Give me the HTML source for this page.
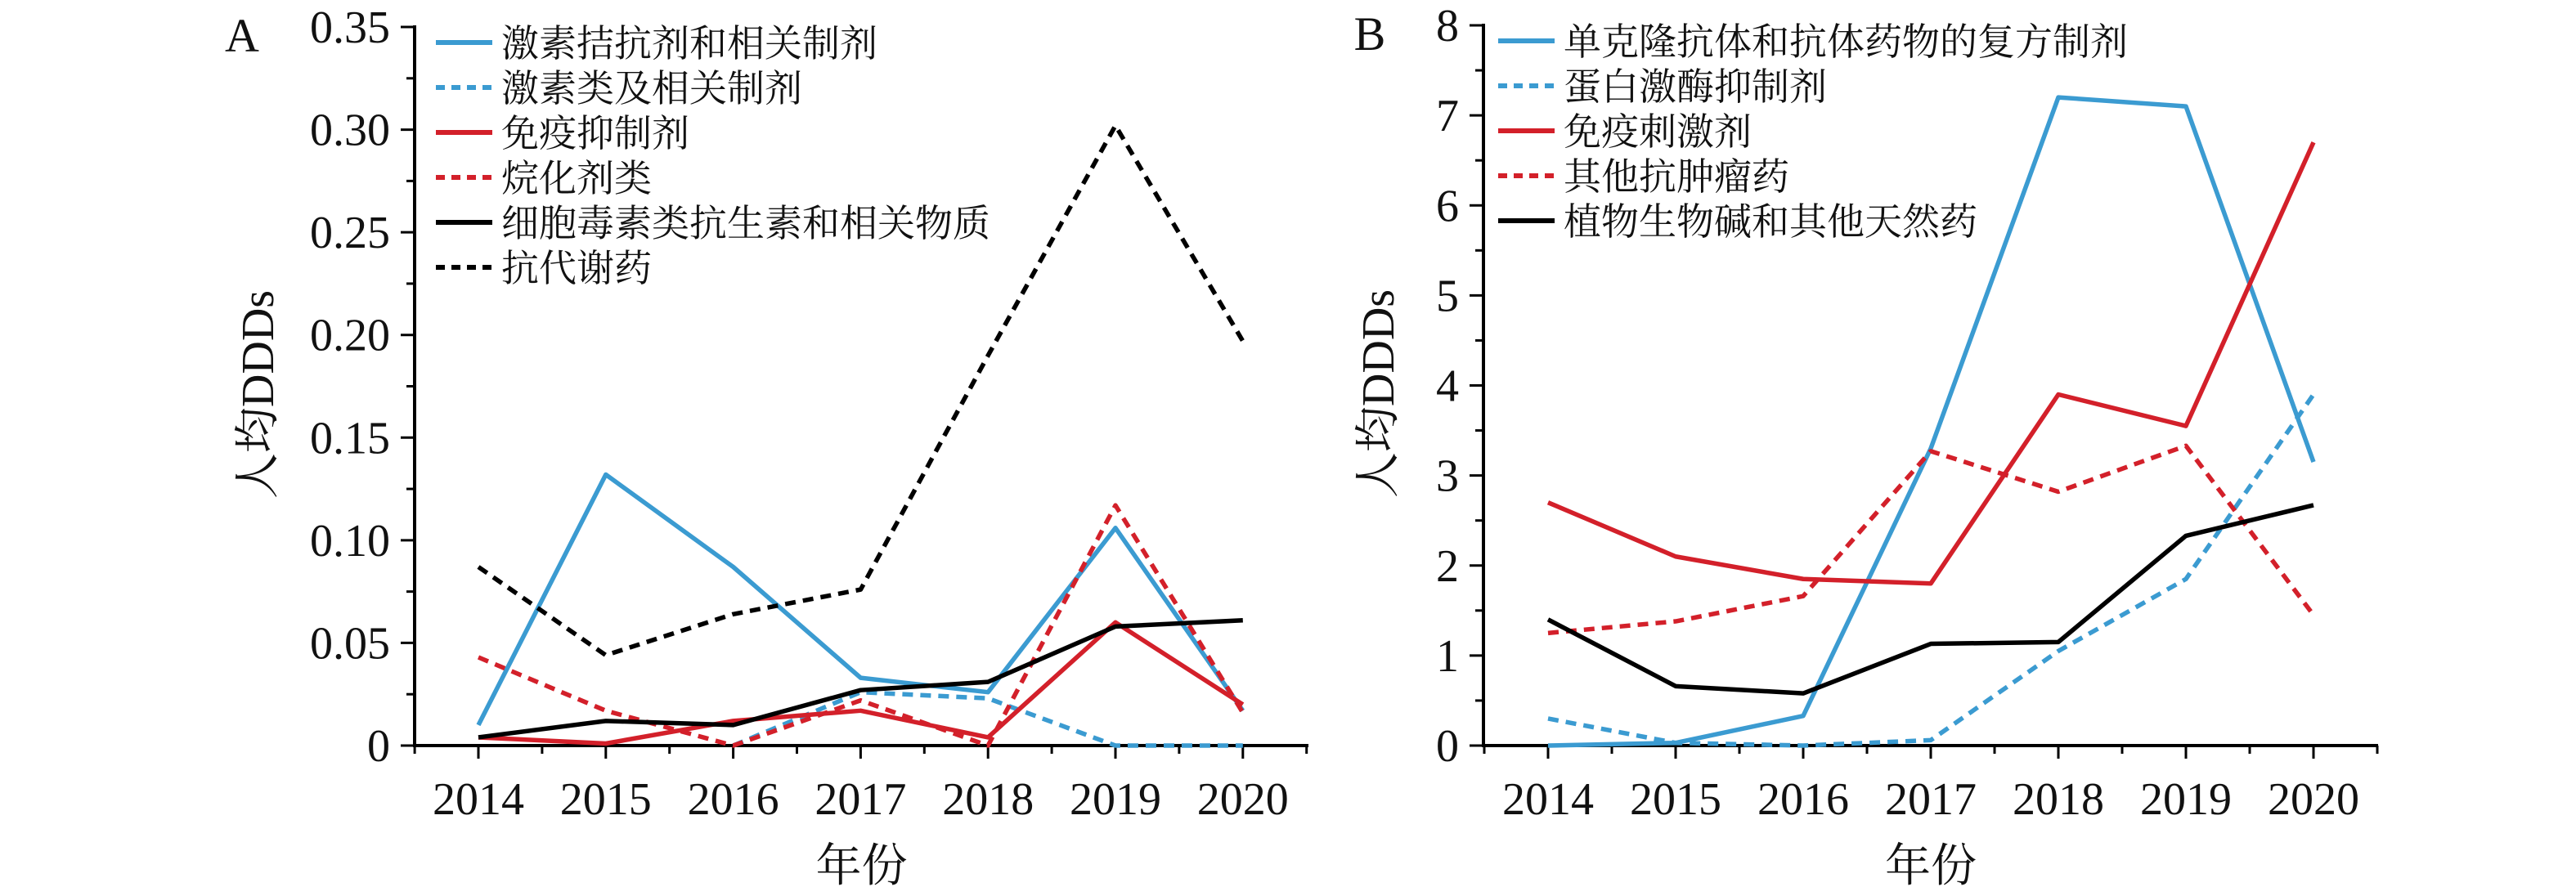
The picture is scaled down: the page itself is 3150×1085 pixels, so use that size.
<!DOCTYPE html>
<html><head><meta charset="utf-8"><style>
html,body{margin:0;padding:0;background:#fff;}
svg{display:block;}
text{font-family:"Liberation Serif","Noto Serif CJK SC","Noto Sans CJK SC",serif;fill:#111;}
</style></head><body>
<svg id="s" width="3150" height="1085" xmlns="http://www.w3.org/2000/svg"></svg>
<script>
const S=document.getElementById('s');let h='';
const BL='#3b9bd1',RD='#d3202a',BK='#000';
function panel(o){
  const {x0,x1,y0,yTop,ymax,major,minor,fmt,px0,step}=o;
  const Y=v=>y0-(v/ymax)*(y0-yTop);
  const X=i=>px0+i*step;
  h+=`<line x1="${x0}" y1="${y0}" x2="${x1}" y2="${y0}" stroke="#000" stroke-width="4"/>`;
  h+=`<line x1="${x0}" y1="${y0+2}" x2="${x0}" y2="${yTop-2}" stroke="#000" stroke-width="4"/>`;
  for(let v=0;v<=ymax+1e-9;v+=minor){
    const isM=Math.abs(v/major-Math.round(v/major))<1e-6;
    const y=Y(v);
    h+=`<line x1="${x0-(isM?17:10)}" y1="${y}" x2="${x0}" y2="${y}" stroke="#000" stroke-width="3"/>`;
    if(isM)h+=`<text x="${x0-30}" y="${y+19}" font-size="56" text-anchor="end">${fmt(v)}</text>`;
  }
  for(let i=-0.5;i<=6.5;i+=0.5){
    const x=X(i);const isM=Number.isInteger(i);
    h+=`<line x1="${x}" y1="${y0}" x2="${x}" y2="${y0+(isM?16:10)}" stroke="#000" stroke-width="3"/>`;
  }
  for(let i=0;i<7;i++)h+=`<text x="${X(i)}" y="${y0+84}" font-size="56" text-anchor="middle">${2014+i}</text>`;
  h+=`<text x="${(x0+x1)/2}" y="${y0+166}" font-size="56" text-anchor="middle">年份</text>`;
  h+=`<text transform="translate(${o.ylx},${(y0+yTop)/2+10}) rotate(-90)" font-size="56" text-anchor="middle">人均DDDs</text>`;
  h+=`<text x="${o.lx}" y="${yTop+30}" font-size="58" text-anchor="middle">${o.letter}</text>`;
  o.series.forEach(s=>{
    const from=s.from||0;
    const pts=s.d.map((v,i)=>X(i+from)+','+Y(v)).join(' ');
    h+=`<polyline points="${pts}" fill="none" stroke="${s.c}" stroke-width="5.5" ${s.dash?'stroke-dasharray="13,9"':''} stroke-linejoin="round"/>`;
  });
  o.series.forEach((s,k)=>{
    const y=o.legY+k*o.legStep;
    h+=`<line x1="${o.legX}" y1="${y}" x2="${o.legX+69}" y2="${y}" stroke="${s.c}" stroke-width="6" ${s.dash?'stroke-dasharray="11,8"':''}/>`;
    h+=`<text x="${o.legX+80}" y="${y+17}" font-size="46">${s.n}</text>`;
  });
}
panel({x0:507,x1:1600,y0:912,yTop:33,ymax:0.35,major:0.05,minor:0.025,
 fmt:v=>v<1e-9?'0':v.toFixed(2),px0:585,step:155.8,ylx:334,lx:296,letter:'A',
 legX:533,legY:52,legStep:55,
 series:[
 {n:'激素拮抗剂和相关制剂',c:BL,d:[0.010,0.132,0.087,0.033,0.026,0.106,0.017]},
 {n:'激素类及相关制剂',c:BL,dash:1,from:2,d:[0.000,0.026,0.023,0.000,0.000]},
 {n:'免疫抑制剂',c:RD,d:[0.004,0.001,0.012,0.017,0.004,0.060,0.020]},
 {n:'烷化剂类',c:RD,dash:1,d:[0.043,0.017,0.000,0.022,0.000,0.117,0.016]},
 {n:'细胞毒素类抗生素和相关物质',c:BK,d:[0.004,0.012,0.010,0.027,0.031,0.058,0.061]},
 {n:'抗代谢药',c:BK,dash:1,d:[0.087,0.044,0.064,0.076,0.190,0.302,0.197]}
 ]});
panel({x0:1814,x1:2908,y0:912,yTop:31,ymax:8,major:1,minor:0.5,
 fmt:v=>String(Math.round(v)),px0:1893,step:156,ylx:1704,lx:1675,letter:'B',
 legX:1832,legY:50,legStep:55,
 series:[
 {n:'单克隆抗体和抗体药物的复方制剂',c:BL,d:[0,0.03,0.33,3.3,7.2,7.1,3.15]},
 {n:'蛋白激酶抑制剂',c:BL,dash:1,d:[0.30,0.03,0,0.06,1.05,1.85,3.9]},
 {n:'免疫刺激剂',c:RD,d:[2.7,2.1,1.85,1.8,3.9,3.55,6.7]},
 {n:'其他抗肿瘤药',c:RD,dash:1,d:[1.25,1.38,1.66,3.27,2.82,3.33,1.45]},
 {n:'植物生物碱和其他天然药',c:BK,d:[1.4,0.66,0.58,1.13,1.15,2.33,2.67]}
 ]});
S.innerHTML=h;
</script>
</body></html>
